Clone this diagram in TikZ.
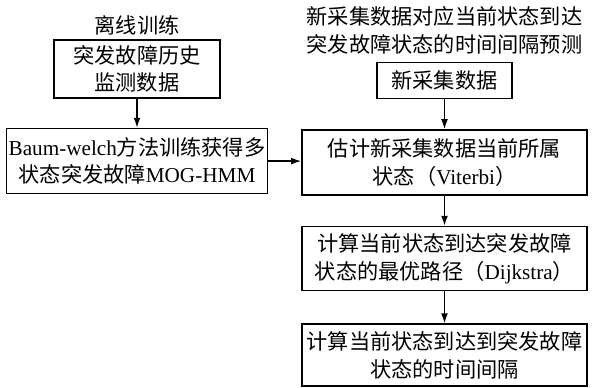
\documentclass[tikz,border=0pt]{standalone}
\usepackage{fontspec}
\setmainfont{Liberation Serif}
\newfontfamily\cjk{Noto Sans CJK SC}
\usetikzlibrary{arrows.meta,positioning}
\newcommand{\eng}[1]{{\rmfamily #1}}

\begin{document}
\begin{tikzpicture}[
    font={\fontsize{10.6pt}{13.8pt}\cjk},
    box/.style={draw, line width=0.8pt, align=center, inner sep=1pt},
    title/.style={align=center, inner sep=0pt},
    arrow/.style={-{Latex[length=5pt,width=3.4pt]}, line width=0.7pt}
]
\useasboundingbox (0,0) rectangle (297pt,-193.5pt);
% offline training
\node[box, minimum width=83pt, minimum height=29pt] (history) at (68.5pt,-34.5pt) {突发故障历史\\监测数据};
\node[title, above=2pt of history] (offline) {离线训练};
\node[box, minimum width=130pt, minimum height=32.5pt, below=14.5pt of history] (train) {\eng{Baum-welch}方法训练获得多\\状态突发故障\eng{MOG-HMM}};
% prediction
\node[box, minimum width=142.5pt, minimum height=32.5pt] (viterbi) at (222.25pt,-81.25pt) {估计新采集数据当前所属\\状态（\eng{Viterbi}）};
\node[box, minimum width=67.5pt, minimum height=18pt, above=15pt of viterbi] (newdata) {新采集数据};
\node[title, above=3.5pt of newdata] (online) {新采集数据对应当前状态到达\\突发故障状态的时间间隔预测};
\node[box, minimum width=142.5pt, minimum height=32pt, below=15pt of viterbi] (dijkstra) {计算当前状态到达突发故障\\状态的最优路径（\eng{Dijkstra}）};
\node[box, minimum width=142.5pt, minimum height=31pt, below=16pt of dijkstra] (interval) {计算当前状态到达到突发故障\\状态的时间间隔};
\draw[arrow] (history) -- (train);
\draw[arrow] (train.east) -- (train.east -| viterbi.west);
\draw[arrow] (newdata) -- (viterbi);
\draw[arrow] (viterbi) -- (dijkstra);
\draw[arrow] (dijkstra) -- (interval);
\end{tikzpicture}
\end{document}
